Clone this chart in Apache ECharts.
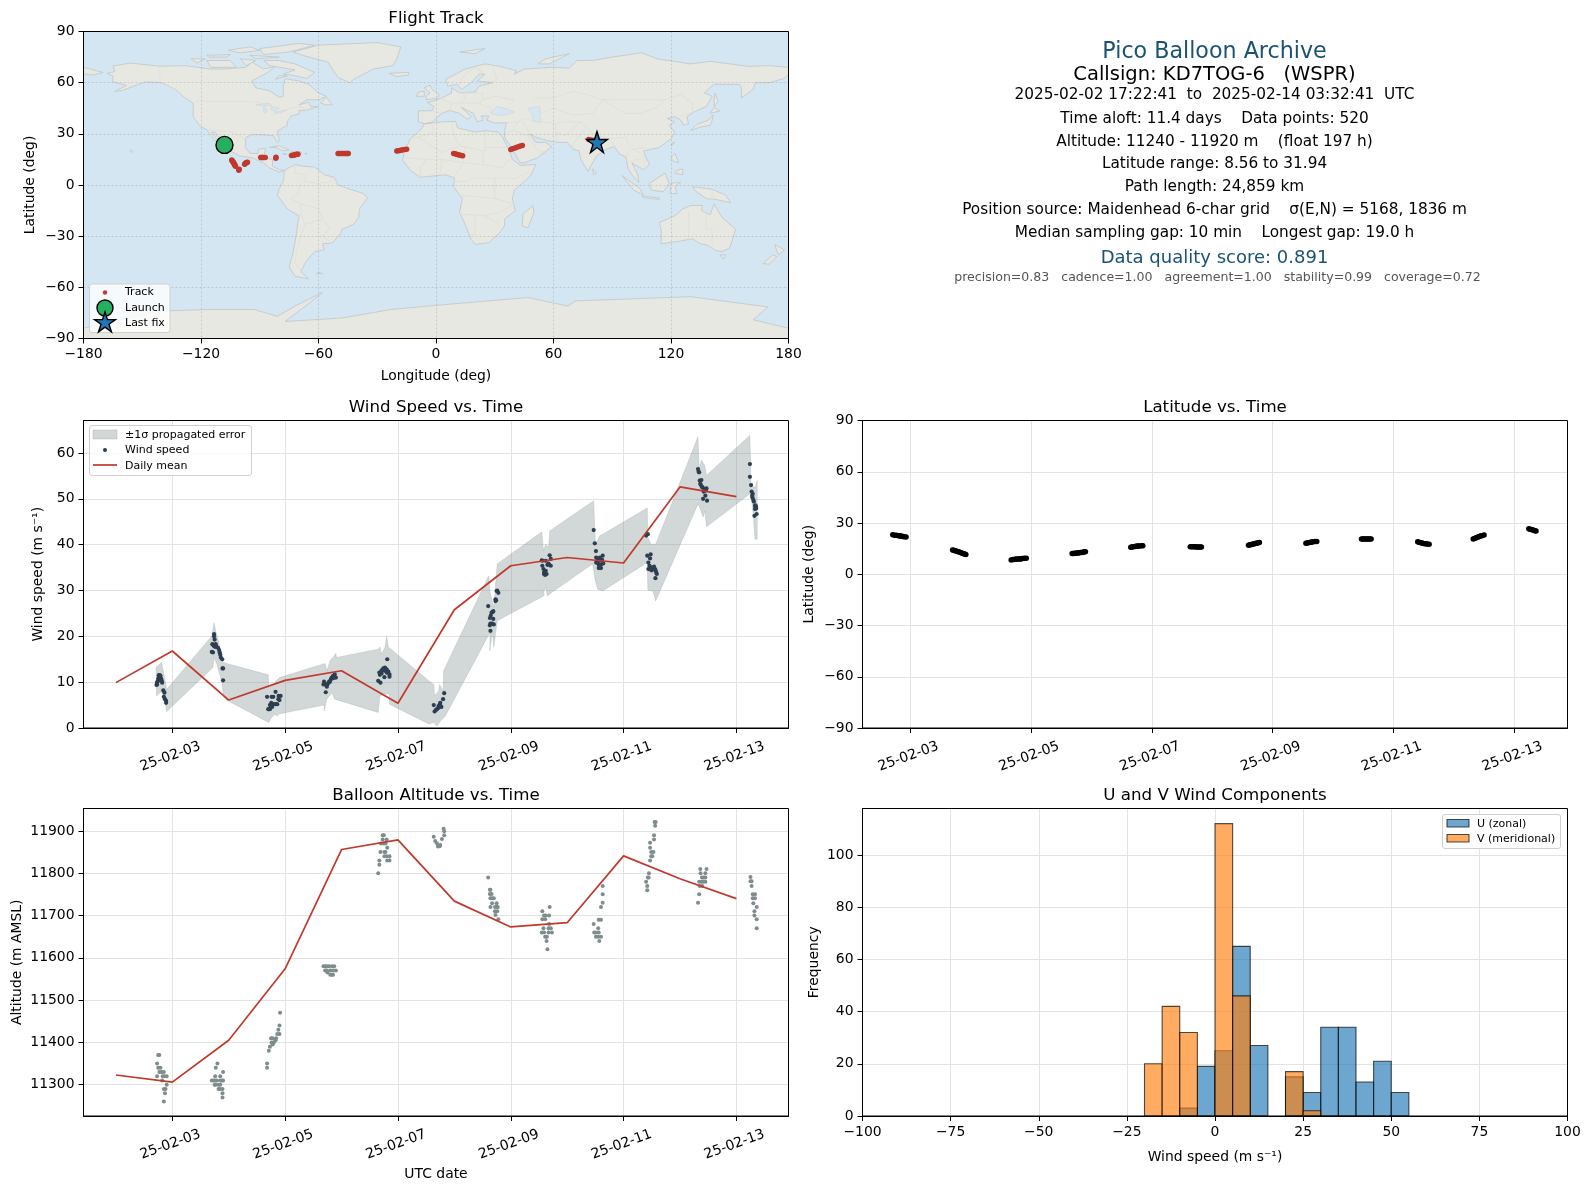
<!DOCTYPE html>
<html><head><meta charset="utf-8">
<script src="https://cdn.jsdelivr.net/npm/echarts@6/dist/echarts.min.js"></script>
<style>html,body{margin:0;padding:0;background:#fff}#c{width:1589px;height:1189px}</style>
</head><body><div id="c"></div>
<script>
// ---------- DATA ----------
const dayTicks=[3,5,7,9,11,13];
const meanDays=[2,3,4,5,6,7,8,9,10,11,12,13];
const windMean=[9.9,16.8,6.1,10.4,12.5,5.4,25.8,35.4,37.2,36,52.6,50.5];
const altMean=[11323,11306,11405,11574,11856,11879,11734,11673,11683,11841,11787,11740];
const windPts=[
[2.72,9.4],[2.73,9.9],[2.73,9.5],[2.74,10.2],[2.75,10.7],[2.76,10.9],[2.76,11.5],[2.77,11.5],[2.78,11.5],[2.79,11.4],[2.79,10.9],[2.8,10.8],[2.8,10.3],[2.81,10.4],[2.82,9.9],[2.84,8.2],[2.86,7.7],[2.85,6.8],[2.87,6.3],[2.89,5.9],[2.89,5.5],
[3.74,20.5],[3.74,20],[3.75,19.3],[3.71,18.3],[3.73,18.0],[3.74,17.9],[3.77,18.3],[3.76,17.7],[3.78,17.8],[3.81,17.5],[3.83,17.0],[3.84,16.5],[3.70,16.6],[3.72,16.5],[3.85,16.0],[3.86,15.4],[3.885,15.0],[3.89,13.0],[3.9,13.0],[3.9,10.4],
[4.68,6.8],[4.83,7.9],[4.79,6.8],[4.76,6.8],[4.885,7.0],[4.92,7.0],[4.88,6.3],[4.90,6.1],[4.755,5.5],[4.73,5.0],[4.71,4.1],[4.73,4.1],[4.77,4.6],[4.80,5.2],[4.86,5.2],[4.83,5.2],[4.70,4.1],[4.75,4.9],
[5.69,10.1],[5.71,9.5],[5.74,9.0],[5.72,7.8],[5.75,9.5],[5.77,9.9],[5.78,10.1],[5.81,10.6],[5.825,11],[5.85,11.4],[5.88,11.7],[5.90,11],[5.85,10.9],[5.68,9.5],[5.87,11],[5.795,10.1],
[6.81,15],[6.77,13.2],[6.74,13],[6.71,12.6],[6.67,12.1],[6.68,11.6],[6.77,12.5],[6.80,12.8],[6.83,12.3],[6.85,11.7],[6.85,11.2],[6.76,11.1],[6.65,10.3],[6.69,9.9],[6.71,11.9],[6.8,12.1],[6.74,12.6],
[7.635,5.0],[7.65,3.6],[7.69,4.1],[7.72,4.8],[7.75,5.5],[7.80,6.3],[7.82,7.6],[7.77,4.6],[7.71,4.3],[7.74,5.1],[7.67,3.9],[7.76,4.7],
[8.60,26.6],[8.68,25.3],[8.66,25.2],[8.645,24.5],[8.63,24.0],[8.69,23.8],[8.64,22.8],[8.67,22.8],[8.70,22.6],[8.63,22.4],[8.64,21.2],[8.73,27.7],[8.73,28.1],[8.74,27.9],[8.75,29.9],[8.78,29.5],[8.76,30.0],[8.69,25.5],
[9.55,36.6],[9.56,35.4],[9.58,34.7],[9.59,33.9],[9.61,33.4],[9.635,33.6],[9.59,33.6],[9.69,37.7],[9.71,36.9],[9.65,35.6],[9.68,35.6],[9.71,35.4],[9.62,36.5],[9.56,36.5],[9.62,34.3],[9.67,35.9],
[10.47,43.2],[10.49,40.3],[10.51,38.6],[10.515,37.2],[10.54,36.8],[10.58,37.2],[10.63,37.6],[10.515,36.1],[10.56,35.7],[10.60,35.7],[10.64,35.9],[10.56,34.9],[10.60,34.9],[10.53,36.1],[10.59,36.6],[10.62,36.7],[10.55,36.4],[10.57,35.2],
[11.40,42.0],[11.43,42.3],[11.42,37.6],[11.48,37.9],[11.47,37.0],[11.44,36.1],[11.46,35.4],[11.44,34.7],[11.50,35.0],[11.54,35.2],[11.56,34.7],[11.58,33.9],[11.59,33.6],[11.565,32.7],[11.50,34.4],[11.47,34.6],[11.52,34.9],[11.57,34.3],
[12.32,56.5],[12.34,55.8],[12.35,54],[12.38,54.1],[12.36,53.3],[12.40,52.5],[12.44,52.2],[12.47,52.3],[12.42,51.6],[12.45,50.7],[12.41,50],[12.48,49.6],[12.39,52.6],[12.37,53.0],[12.45,51.8],[12.43,51.9],[12.33,55.9],[12.46,52.0],
[13.24,57.6],[13.24,54.8],[13.26,53],[13.27,51.6],[13.29,51.1],[13.285,50.3],[13.30,49.8],[13.33,48.5],[13.35,48.2],[13.33,47.8],[13.32,46.3],[13.36,46.7],[13.34,48.6],[13.35,47.9],[13.28,50.7],[13.31,49.4]];
const bandUpper=[[2.71,13.2],[2.81,14.3],[2.88,9.9],[2.90,8.4],[3.70,20.1],[3.74,23.0],[3.77,21.2],[3.82,19.0],[3.90,14.3],[4.70,11.6],[4.71,8.8],[4.79,9.2],[4.84,10.3],[4.90,11.0],[5.71,14.1],[5.74,12.5],[5.80,14.8],[5.85,15.4],[5.90,16.3],[5.91,15.4],[6.65,17.2],[6.68,17.7],[6.71,16.1],[6.77,17.6],[6.80,20.1],[6.83,17.7],[7.546,10.3],[7.635,9.5],[7.65,7.0],[7.72,8.1],[7.74,9.5],[7.80,8.1],[7.81,12.5],[8.61,33.2],[8.63,29.9],[8.67,27.7],[8.70,26.3],[8.76,35.8],[9.55,42.8],[9.58,38.7],[9.62,40.1],[9.67,39.4],[9.69,43.0],[10.47,49.6],[10.50,40.1],[10.54,40.9],[10.58,42.0],[10.63,42.3],[11.42,48.0],[11.43,41.6],[11.49,40.1],[11.57,40.1],[12.32,63.6],[12.34,56.5],[12.38,58.5],[12.44,57.2],[12.47,55.1],[13.24,63.9],[13.26,52.9],[13.33,52.5],[13.37,54.0]];
const bandLower=[[2.72,7.0],[2.81,8.1],[2.86,6.6],[2.90,3.6],[3.72,13.2],[3.74,15.4],[3.79,13.9],[3.87,10.3],[3.92,6.6],[3.96,6.1],[4.71,1.2],[4.76,2.3],[4.82,3.0],[4.85,2.6],[4.90,3.1],[5.69,5.0],[5.69,3.7],[5.74,6.3],[5.83,7.7],[5.88,6.3],[6.65,3.4],[6.68,7.0],[6.77,7.4],[6.85,7.4],[6.85,5.2],[7.546,0.9],[7.635,1.2],[7.69,0.4],[7.75,1.5],[7.84,2.6],[8.63,20.8],[8.63,16.8],[8.67,21.2],[8.70,17.6],[8.76,23.4],[9.58,28.8],[9.59,29.9],[9.62,30.7],[9.65,28.8],[9.73,29.6],[10.45,35.8],[10.50,32.1],[10.54,30.3],[10.63,29.9],[11.42,36.1],[11.43,30.1],[11.52,29.9],[11.57,27.7],[12.32,48.9],[12.35,48.1],[12.41,46.0],[12.44,47.4],[12.47,43.9],[13.24,51.1],[13.27,49.6],[13.30,46.3],[13.33,41.2],[13.37,41.2]];
const altPts=[
[2.75,11370],[2.77,11370],[2.73,11350],[2.75,11340],[2.79,11340],[2.77,11330],[2.81,11330],[2.85,11330],[2.73,11320],[2.83,11320],[2.86,11320],[2.9,11320],[2.9,11300],[2.85,11290],[2.88,11290],[2.87,11280],[2.85,11260],[2.82,11310],
[3.80,11350],[3.77,11340],[3.76,11320],[3.85,11320],[3.90,11330],[3.70,11310],[3.73,11310],[3.76,11310],[3.79,11310],[3.85,11310],[3.88,11310],[3.90,11310],[3.75,11300],[3.77,11300],[3.82,11300],[3.85,11300],[3.82,11290],[3.85,11290],[3.89,11290],[3.89,11280],[3.89,11270],
[4.91,11470],[4.90,11440],[4.88,11430],[4.86,11420],[4.90,11420],[4.84,11410],[4.75,11410],[4.78,11410],[4.83,11405],[4.76,11400],[4.80,11400],[4.78,11395],[4.73,11390],[4.71,11380],[4.68,11350],[4.68,11340],
[5.68,11580],[5.71,11580],[5.74,11580],[5.78,11580],[5.83,11580],[5.87,11580],[5.71,11570],[5.74,11570],[5.80,11570],[5.85,11570],[5.90,11570],[5.75,11565],[5.80,11560],[5.83,11560],[5.85,11560],
[6.73,11890],[6.75,11890],[6.73,11880],[6.80,11880],[6.70,11870],[6.75,11870],[6.78,11870],[6.81,11860],[6.69,11850],[6.76,11850],[6.78,11850],[6.76,11840],[6.80,11840],[6.85,11840],[6.81,11830],[6.85,11830],[6.67,11830],[6.67,11820],[6.65,11800],
[7.635,11886],[7.66,11876],[7.69,11871],[7.72,11865],[7.75,11867],[7.78,11881],[7.82,11890],[7.81,11905],[7.82,11899],[7.74,11864],[7.71,11863],
[8.60,11790],[8.63,11761],[8.64,11761],[8.63,11751],[8.66,11751],[8.64,11741],[8.67,11741],[8.70,11741],[8.67,11729],[8.75,11729],[8.64,11720],[8.72,11720],[8.75,11720],[8.77,11720],[8.72,11710],[8.76,11710],[8.73,11701],[8.78,11691],
[9.56,11710],[9.69,11720],[9.59,11700],[9.62,11700],[9.68,11700],[9.56,11691],[9.61,11691],[9.68,11680],[9.58,11670],[9.67,11670],[9.71,11670],[9.55,11660],[9.59,11660],[9.67,11660],[9.73,11660],[9.61,11650],[9.64,11650],[9.635,11640],[9.65,11620],
[10.63,11770],[10.63,11750],[10.63,11730],[10.60,11720],[10.56,11690],[10.60,11690],[10.47,11680],[10.55,11670],[10.48,11660],[10.51,11660],[10.56,11660],[10.51,11650],[10.55,11650],[10.60,11650],[10.57,11640],
[11.57,11921],[11.55,11921],[11.56,11912],[11.54,11890],[11.54,11880],[11.47,11872],[11.47,11860],[11.49,11850],[11.53,11850],[11.51,11840],[11.49,11840],[11.47,11830],[11.45,11800],[11.445,11790],[11.40,11780],[11.43,11790],[11.42,11770],[11.42,11760],
[12.36,11810],[12.47,11810],[12.365,11800],[12.45,11800],[12.39,11790],[12.42,11790],[12.45,11790],[12.34,11780],[12.38,11780],[12.41,11780],[12.45,11780],[12.35,11770],[12.395,11770],[12.34,11750],[12.32,11730],
[13.25,11791],[13.25,11781],[13.27,11781],[13.27,11770],[13.29,11750],[13.33,11750],[13.29,11741],[13.33,11741],[13.30,11729],[13.36,11720],[13.32,11710],[13.32,11700],[13.36,11691],[13.36,11670]];
const latPts=[
[2.71,23.1],[2.74,22.9],[2.77,22.8],[2.8,22.6],[2.82,22.5],[2.84,22.4],[2.86,22.2],[2.88,22.1],[2.9,21.9],[2.93,21.8],
[3.70,14.2],[3.72,14],[3.74,13.8],[3.76,13.6],[3.78,13.3],[3.80,13.1],[3.82,12.9],[3.84,12.6],[3.86,12.3],[3.88,12],[3.90,11.8],[3.92,11.6],
[4.67,8.4],[4.70,8.6],[4.72,8.7],[4.74,8.8],[4.76,8.9],[4.78,8.9],[4.80,9.0],[4.82,9.0],[4.84,9.1],[4.86,9.2],[4.89,9.3],[4.92,9.4],
[5.68,12.2],[5.70,12.2],[5.72,12.3],[5.74,12.3],[5.76,12.4],[5.78,12.5],[5.80,12.6],[5.82,12.7],[5.84,12.8],[5.86,12.9],[5.88,13.1],[5.90,13.2],
[6.65,15.8],[6.67,16],[6.69,16.1],[6.72,16.3],[6.74,16.4],[6.76,16.5],[6.78,16.5],[6.80,16.6],[6.83,16.7],[6.85,16.7],
[7.635,16.1],[7.66,16.1],[7.68,16.1],[7.70,16.1],[7.72,16.1],[7.74,16.0],[7.76,16.0],[7.78,16.0],[7.80,16.0],[7.82,16.0],
[8.60,17.0],[8.62,17.2],[8.64,17.3],[8.66,17.5],[8.68,17.7],[8.70,17.9],[8.72,18.1],[8.74,18.2],[8.76,18.4],[8.78,18.6],
[9.55,18.2],[9.57,18.3],[9.59,18.4],[9.61,18.6],[9.63,18.7],[9.65,18.9],[9.67,19.0],[9.70,19.1],[9.73,19.2],
[10.47,20.6],[10.49,20.7],[10.51,20.7],[10.53,20.7],[10.55,20.7],[10.57,20.7],[10.59,20.6],[10.61,20.6],[10.63,20.6],
[11.40,19.0],[11.42,18.8],[11.44,18.6],[11.46,18.4],[11.48,18.2],[11.50,18],[11.52,17.9],[11.54,17.8],[11.56,17.7],[11.59,17.6],
[12.32,20.6],[12.34,20.9],[12.36,21.2],[12.38,21.5],[12.40,21.8],[12.42,22.1],[12.44,22.4],[12.46,22.6],[12.50,23],
[13.24,26.6],[13.26,26.4],[13.28,26.2],[13.30,26],[13.32,25.7],[13.34,25.5],[13.36,25.3]];
const histEdges=[-20,-15,-10,-5,0,5,10,15,20,25,30,35,40,45,50,55];
const uCounts=[0,0,3,19,25,65,27,0,15,9,34,34,13,21,9];
const vCounts=[20,42,32,0,112,46,0,0,17,2,0,0,0,0,0];
const trackPts=[[-104.3,14.6],[-104,14.1],[-103.8,13.8],[-103.5,13.3],[-103.2,12.8],[-103,12.3],[-102.8,11.8],[-102.6,11.4],[-102.4,11],[-100.7,8.6],[-100.5,9.2],[-97.7,12.2],[-97.4,12.6],[-97,13],[-96.6,13.2],[-96.3,13.4],[-89.5,16.1],[-89,16.1],[-88.5,16.1],[-88,16.1],[-87.2,16.1],[-81.8,15.7],[-81.7,16.2],[-73.8,17.3],[-73,17.4],[-72.5,17.6],[-72,17.8],[-71.5,17.9],[-71,18],[-70.5,18.1],[-50,18.5],[-49.3,18.5],[-48.5,18.5],[-47.8,18.5],[-47,18.5],[-46.4,18.5],[-45.8,18.5],[-45.3,18.5],[-44.8,18.5],[-20,20],[-19.3,20.1],[-18.5,20.3],[-17.8,20.4],[-17,20.6],[-16,20.8],[-15,21],[9,18.5],[9.7,18.3],[10.5,18.1],[11.2,17.8],[12,17.6],[12.8,17.3],[13.6,17.1],[38.2,20.8],[39,21.2],[40,21.6],[41,22],[42,22.4],[43,22.8],[44.1,23.2],[78,26.7],[79,26.4],[80,26.2]];
const launchPt=[-108,23.5];
const lastFixPt=[82.2,25.2];
const landPolys=[
[[-168,65.5],[-164,66.5],[-165,69.8],[-156,71.5],[-141,69.6],[-128,70],[-124,69.4],[-115,68],[-108,68],[-97,69],[-94,72],[-88,68],[-82,69.5],[-86,66],[-94,61],[-92,57],[-85,55.3],[-82,53],[-80,51.5],[-78,52],[-78,58],[-77,62.3],[-70,61],[-65,59],[-60,54],[-56,52],[-60,50],[-66,50],[-70,47],[-65,48.5],[-64,46],[-60,46],[-66,44],[-70,43.5],[-70,41.5],[-74,40.5],[-76,37],[-76,35],[-81,31.5],[-80,26],[-81,25],[-83,29],[-90,29.5],[-94,29.5],[-97,28],[-97.5,22],[-95,18.5],[-91,18.5],[-90.5,21],[-87,21.5],[-88,16],[-83.5,15],[-83.5,11],[-80,9],[-77.5,8.5],[-80,7.5],[-85,10],[-88,13],[-94,16],[-100,17],[-105,20],[-106,23],[-110,27],[-113,31],[-114.7,31],[-112,27],[-109.5,23],[-112,25],[-115,29],[-117,32.5],[-120.5,34.5],[-124,40],[-124,48],[-128,51],[-133,56],[-140,60],[-148,60.5],[-152,59],[-160,55.5],[-164,54.8],[-158,58.5],[-165,60.5],[-165,64]],
[[-80,73],[-72,71],[-62,66],[-66,62.5],[-74,64.5],[-78,65],[-72,67.5],[-85,70],[-88,73]],
[[-117,73],[-105,73],[-102,69],[-115,69]],
[[-90,80],[-70,83],[-62,82],[-75,78],[-88,76.5]],
[[-125,74],[-118,74],[-122,71.5]],
[[-95,76],[-80,75],[-92,74]],
[[-117,76],[-105,76.5],[-107,75],[-116,75]],
[[-100,74],[-92,73],[-97,70]],
[[-106,79],[-95,81],[-90,79],[-100,77.5]],
[[-80,64],[-76,64],[-82,62]],
[[-59,48],[-56,51.5],[-53,47],[-56,47]],
[[-73,78],[-60,82],[-30,83.5],[-18,81],[-20,74],[-22,70],[-32,68],[-42,62],[-44,60],[-50,63],[-53,68],[-55,72],[-68,76]],
[[-85,22],[-80,23],[-75,20.5],[-78,20],[-82,22]],
[[-74,19.5],[-69,19.5],[-68.5,18.5],[-74,18]],
[[-67,18.5],[-65.7,18.4],[-66,18]],
[[-78.4,18.4],[-76.3,18.2],[-77,17.8]],
[[-156,20.6],[-155,19.8],[-155.7,19]],
[[-77.5,8.5],[-72,12],[-68,11],[-62,10.5],[-57,6],[-52,4.5],[-50,0],[-44,-2.5],[-37,-5],[-35,-7.5],[-39,-14],[-39.5,-19],[-42,-23],[-48,-26],[-49,-29],[-53,-34],[-58,-34.5],[-57,-38],[-62,-39],[-65,-43],[-67,-46],[-69,-51],[-65,-55],[-72,-53.5],[-75,-48],[-73,-40],[-71.5,-30],[-70,-18],[-76,-14],[-81,-6],[-80,-2],[-78,2],[-77.5,7]],
[[-61,-52],[-58,-52],[-59,-51]],
[[-6,35.8],[3,37],[10,37.3],[11,33.5],[20,31],[25,31.8],[32,31],[34,28],[37,21],[39,15],[43,11.5],[51,12],[48,5],[40,-3],[39,-8],[40.5,-15],[35,-20],[35,-24],[32.5,-28],[27,-33.8],[20,-34.8],[18,-32],[14.5,-22],[12,-16],[13.5,-8],[9,-1],[9.5,4],[5,6],[-4,5],[-8,4.5],[-13,8.5],[-17,14.5],[-16,20],[-13,27.5],[-10,30],[-7,33.5]],
[[49.5,-12],[50,-16],[47,-25],[44,-24],[44.5,-17]],
[[-9,37],[-6,36],[-2,36.8],[0,39],[3,42],[7,43.7],[12,42],[16,38.5],[18,40],[13,45.5],[19,42],[21,37],[24,38],[23,40.5],[27,40.5],[26,38],[30,36.3],[36,36.5],[35,31.5],[35,28],[39,21],[43,13],[45,13],[52,16],[59,22.5],[56,25],[51,25],[48,30],[51,28],[57,26],[62,25],[67,25],[70,21],[73,20],[74,15],[77.5,8],[80,13],[82,17],[87,21],[91,22.5],[94,18],[97,16.5],[98,10],[100,6],[103.5,1.5],[103,6],[100,13],[103,11],[106,9],[109,12],[107,17],[106,20],[110,21],[114,22],[120,27],[122,31],[119,35],[122,37],[118,39],[122,40],[125,38],[126.5,35],[129,36],[128,40],[132,43],[138,46],[141,52],[137,54],[142,59],[155,59],[156,57],[156,51],[162,56],[163,60],[170,60],[178,62.5],[180,65],[180,69],[170,70],[160,69.5],[140,72.5],[130,71],[113,74],[105,77.5],[90,75],[80,73],[72,73],[68,68.5],[60,69],[45,68],[40,65],[41,67],[33,69.5],[25,71],[15,68],[5,62],[6,58],[11,59],[13,56],[18,60],[22,65],[25,65],[21,61],[29,60],[22,58],[20,54.5],[12,54],[8,57],[8,54],[3,51],[-2,49],[-4.5,48.5],[-1,46],[-2,43.5],[-9,43.5]],
[[-180,65],[-175,64.5],[-170,66],[-180,69]],
[[-5,50],[1,51],[1.5,53],[-2,56],[-3,58.5],[-6,57],[-3,54],[-5,52]],
[[-10,52],[-6,52],[-6,55],[-9,54.5]],
[[-24,65.5],[-14,66],[-14,64.5],[-20,63.5]],
[[12,78],[25,80],[20,77]],
[[52,71],[56,74],[68,77],[58,71]],
[[130,32],[135,34],[140,35],[141,38],[141.5,41],[139,38],[133,35.5]],
[[140,42],[145,43.5],[142,45.5]],
[[142,46],[144,49],[142.5,54],[142,50]],
[[120,23],[122,25],[121,25]],
[[120,16],[122,18.5],[124,13],[121,14]],
[[122,7],[126,6],[126,9.5],[123,8.5]],
[[109,1],[117,7],[119,1],[116,-4],[110,-3]],
[[95,5.5],[104,-2],[106,-6],[101,-3]],
[[105,-6.5],[114,-7.5],[114,-8.5],[106,-7.5]],
[[119.5,-5],[120,1],[125,1.5],[122,-1],[123,-5]],
[[131,-1],[141,-2.5],[148,-6],[150.5,-10.5],[143,-8.5],[138,-8],[133,-4]],
[[80,9.5],[82,7],[80.5,6]],
[[114,-22],[122,-18],[126,-14],[130,-12],[136,-12],[135.5,-15],[140,-17.5],[142,-11],[146,-19],[153,-26],[150,-37],[146,-39],[143,-38.5],[138,-35],[135,-34.5],[131,-31.5],[124,-33],[115,-34.5],[115,-27]],
[[145,-41],[148,-41],[147,-43.5]],
[[173,-35],[178,-38],[175,-41],[174,-38.5]],
[[172,-41],[174,-42],[170,-46.5],[167,-46]],
[[-180,-84],[-142,-74],[-116.5,-73],[-93,-73],[-81,-77],[-72,-71],[-58,-63],[-65,-69.5],[-77,-80],[-48,-78],[-23,-73],[0.6,-70.5],[47,-66],[67.5,-71],[71,-68],[106,-66.5],[130,-65.5],[169.5,-71.5],[162,-79],[180,-84],[180,-90],[-180,-90]]
];
const waterPolys=[
[[28,42],[31,46],[35,45],[40,43],[36,41],[31,41]],
[[47,45],[53,46],[53,40],[54,37],[50,37],[49,41]],
[[-92,47],[-85,48],[-84,46.5],[-88,46.5]],
[[-88,46],[-86,44],[-87,42],[-88,43]],
[[-84,46],[-80,45],[-82,43],[-84,44]],
[[-83,42],[-79,43.5],[-76,44],[-79,42.5]]
];
const borderLines=[
[[-123,49],[-95,49],[-89,48],[-83,46],[-82,42],[-79,43],[-75,45],[-70,46],[-67,45]],
[[-141,69.7],[-141,60],[-133,56]],
[[-117,32.5],[-108,31.5],[-106,31.7],[-101,29.5],[-97.5,26]],
[[-92,14.5],[-91,18],[-89,18]],
[[-72,12],[-72,7],[-67,6],[-67,2],[-70,-1],[-70,-4],[-74,-8],[-69,-11],[-69,-17],[-70,-18]],
[[-60,5],[-60,1],[-67,2]],[[-52,4.5],[-54,2],[-60,1]],
[[-69,-11],[-60,-14],[-58,-20],[-54,-25],[-58,-30],[-53,-34]],
[[-69,-17],[-67,-23],[-70,-33],[-72,-45],[-69,-51]],[[-67,-23],[-58,-20]],
[[-2,35],[-1,31],[-9,28],[-13,27.5]],[[-9,28],[-5,25],[3,19],[12,23],[25,20],[25,31.8]],[[25,22],[37,22]],[[8,37],[9,30],[12,23]],
[[-16,16],[-5,15],[3,15],[14,13],[15,23]],[[14,13],[24,12],[24,20]],[[24,12],[34,10],[36,14],[39,15]],
[[3,15],[2,6]],[[-8,4.5],[-8,10],[-5,15]],[[14,13],[9,4]],[[9,2],[16,2],[18,4],[30,4],[34,4],[41,4],[48,8]],
[[12,-6],[22,-7],[30,-8],[30,4]],[[30,-8],[39,-11]],[[12,-17],[24,-18],[33,-16],[40,-11]],[[20,-18],[20,-29],[17,-29]],[[25,-18],[31,-22],[32.5,-26]],
[[2,51],[6,49],[8,48],[7,44]],[[-2,43.5],[3,42]],[[-7,42],[-7,37]],[[14,54],[15,51],[13,48],[8,48]],[[14,54],[24,54],[24,50],[22,48],[16,48],[13,48]],[[24,50],[30,52],[40,50],[38,47]],[[22,48],[28,45],[28,42]],
[[28,60],[31,62],[29,70]],[[20,69],[24,66]],[[12,59],[14,64],[20,69]],
[[36,36.5],[42,37],[45,39],[48,38]],[[42,37],[39,32],[35,30]],[[39,32],[47,29],[48,30]],[[47,29],[52,20],[55,20],[52,16]],[[44,37],[46,34],[48,30]],[[48,38],[61,36],[61,31],[62,25]],[[61,36],[66,37],[71,37],[74,37]],[[61,31],[66,29],[70,33],[74,37],[77,34],[74,30],[70,24],[70,21]],
[[53,42],[60,45],[70,41],[80,42]],[[50,51],[60,51],[70,55],[77,53],[85,50],[80,42]],[[85,50],[98,50],[107,50],[117,50],[125,53],[131,48],[131,43]],[[85,50],[92,45],[97,42],[105,42],[112,45],[117,50]],
[[77,34],[80,30],[88,27],[97,28],[98,24],[101,21],[107,22]],[[92,22],[89,26]],[[97,16.5],[99,20],[101,21]],[[101,21],[105,18],[107,15],[106,11]],[[100,13],[102,15],[105,15]],[[125,40],[130,42.5]],
[[141,-2.5],[141,-9]],[[129,-15],[129,-31]],[[138,-16],[138,-26],[141,-26],[141,-38]]
];
const infoLines=["2025-02-02 17:22:41  to  2025-02-14 03:32:41  UTC","Time aloft: 11.4 days    Data points: 520","Altitude: 11240 - 11920 m    (float 197 h)","Latitude range: 8.56 to 31.94","Path length: 24,859 km","Position source: Maidenhead 6-char grid    σ(E,N) = 5168, 1836 m","Median sampling gap: 10 min    Longest gap: 19.0 h"];
const infoTitle="Pico Balloon Archive";
const infoCall="Callsign: KD7TOG-6   (WSPR)";
const infoScore="Data quality score: 0.891";
const infoSub="precision=0.83   cadence=1.00   agreement=1.00   stability=0.99   coverage=0.72";

// ---------- LAYOUT ----------
const FONT='"DejaVu Sans"';
const L=83.5,LW=705,R=862.5,RW=705;
const rows=[[31.5,307],[420.5,307.5],[808.5,307.5]];
const grids=[
 {left:L,top:rows[0][0],width:LW,height:rows[0][1]},
 {left:L,top:rows[1][0],width:LW,height:rows[1][1]},
 {left:R,top:rows[1][0],width:RW,height:rows[1][1]},
 {left:L,top:rows[2][0],width:LW,height:rows[2][1]},
 {left:R,top:rows[2][0],width:RW,height:rows[2][1]}
];
const TICK=13.9,OCEAN='#d4e6f1',LAND='#e8e8e3';
const neg=v=>String(v).replace('-','\u2212');
const dayLabel=v=>'25-02-'+String(v).padStart(2,'0');
function axis(idx,o){
 const a={gridIndex:idx,type:'value',min:o.min,max:o.max,
  name:o.name||'',nameLocation:'middle',nameGap:o.gap||30,nameRotate:o.nameRotate,
  nameTextStyle:{fontFamily:FONT,fontSize:13.9,color:'#000'},
  axisLine:{show:true,onZero:false,lineStyle:{color:'#000',width:1}},
  axisTick:{show:true,length:5,lineStyle:{color:'#000',width:1},customValues:o.ticks},
  axisLabel:{show:true,fontFamily:FONT,fontSize:TICK,color:'#000',margin:o.margin||9,rotate:o.rotate||0,
    hideOverlap:false,showMinLabel:true,showMaxLabel:true,padding:o.pad||0,
    customValues:o.ticks,formatter:o.fmt||neg,align:o.align,verticalAlign:o.valign},
  splitLine:{show:true,lineStyle:{color:o.gridColor||'#e3e3e3',width:1,type:o.gridType||'solid'}}};
 if(o.z!=null)a.z=o.z;
 return a;
}
const timeAxis=(idx,min,max,name,gap)=>axis(idx,{min,max,ticks:dayTicks,fmt:dayLabel,rotate:20,align:'center',valign:'middle',pad:[0,4,0,0],name,gap,margin:28});

const xAxes=[
 axis(0,{min:-180,max:180,ticks:[-180,-120,-60,0,60,120,180],name:'Longitude (deg)',gap:31,gridColor:'rgba(90,90,90,.2)',gridType:[2,2],z:3}),
 timeAxis(1,1.4255,13.924),timeAxis(2,2.209,13.881),timeAxis(3,1.4255,13.924,'UTC date',51),
 axis(4,{min:-100,max:100,ticks:[-100,-75,-50,-25,0,25,50,75,100],name:'Wind speed (m s\u207B\u00B9)',gap:34})
];
const yAxes=[
 axis(0,{min:-90,max:90,ticks:[-90,-60,-30,0,30,60,90],name:'Latitude (deg)',gap:46,nameRotate:90,gridColor:'rgba(90,90,90,.2)',gridType:[2,2],z:3}),
 axis(1,{min:0,max:67.1,ticks:[0,10,20,30,40,50,60],name:'Wind speed (m s\u207B\u00B9)',gap:38,nameRotate:90}),
 axis(2,{min:-90,max:90,ticks:[-90,-60,-30,0,30,60,90],name:'Latitude (deg)',gap:46,nameRotate:90}),
 axis(3,{min:11226,max:11953,ticks:[11300,11400,11500,11600,11700,11800,11900],name:'Altitude (m AMSL)',gap:59,nameRotate:90}),
 axis(4,{min:0,max:117.8,ticks:[0,20,40,60,80,100],name:'Frequency',gap:41,nameRotate:90})
];
const polySeries=(list,ai,style,z)=>({type:'custom',xAxisIndex:ai,yAxisIndex:ai,clip:true,silent:true,z,
 data:list.map((_,i)=>[i,0]),
 renderItem:(p,api)=>({type:'polygon',shape:{points:list[p.dataIndex].map(c=>api.coord(c))},style})});
const histSeries=(counts,name,fill,z)=>({type:'custom',name,xAxisIndex:4,yAxisIndex:4,z,clip:true,silent:true,
 encode:{x:[0,1],y:2},
 data:counts.map((c,i)=>[histEdges[i],histEdges[i+1],c]).filter(d=>d[2]>0),
 renderItem:(p,api)=>{const a=api.coord([api.value(0),api.value(2)]),b=api.coord([api.value(1),0]);
  return {type:'rect',shape:{x:a[0],y:a[1],width:b[0]-a[0],height:b[1]-a[1]},style:{fill,stroke:'rgba(0,0,0,.68)',lineWidth:1.1}};}});
const dots=(name,ai,data,size,color,z)=>({type:'scatter',name,xAxisIndex:ai,yAxisIndex:ai,z,symbolSize:size,itemStyle:{color,opacity:1},data,silent:true});

const series=[
 polySeries(landPolys,0,{fill:LAND,stroke:'#c2c5c6',lineWidth:.8},1),
 polySeries(waterPolys,0,{fill:OCEAN,stroke:'#c8d0d4',lineWidth:.5},1),
 {type:'custom',xAxisIndex:0,yAxisIndex:0,clip:true,silent:true,z:1,data:borderLines.map((_,i)=>[i,0]),
  renderItem:(p,api)=>({type:'polyline',shape:{points:borderLines[p.dataIndex].map(c=>api.coord(c))},style:{fill:null,stroke:'#dedeD9',lineWidth:.8}})},
 dots('Track',0,trackPts,5.5,'#c0392b',5),
 {type:'scatter',name:'Launch',xAxisIndex:0,yAxisIndex:0,z:6,symbolSize:17,itemStyle:{color:'#27ae60',opacity:1,borderColor:'#000',borderWidth:1.4},data:[launchPt],silent:true},
 {type:'scatter',name:'Last fix',xAxisIndex:0,yAxisIndex:0,z:6,symbol:'path://M0,-1 L0.2245,-0.309 L0.951,-0.309 L0.363,0.118 L0.588,0.809 L0,0.382 L-0.588,0.809 L-0.363,0.118 L-0.951,-0.309 L-0.2245,-0.309 Z',symbolSize:21,itemStyle:{color:'#1f77b4',opacity:1,borderColor:'#000',borderWidth:1.4},data:[lastFixPt],silent:true},
 {type:'custom',name:'\u00B11\u03C3 propagated error',xAxisIndex:1,yAxisIndex:1,z:2,clip:true,silent:true,data:[[0,0]],
  renderItem:(p,api)=>({type:'polygon',shape:{points:bandUpper.concat(bandLower.slice().reverse()).map(c=>api.coord(c))},style:{fill:'rgba(127,140,141,.35)',stroke:'rgba(127,140,141,.25)',lineWidth:.8}})},
 dots('Wind speed',1,windPts,4.2,'#2c3e50',3),
 {type:'line',name:'Daily mean',xAxisIndex:1,yAxisIndex:1,z:4,showSymbol:false,lineStyle:{color:'#c0392b',width:1.7},data:meanDays.map((d,i)=>[d,windMean[i]]),silent:true},
 dots('Latitude',2,latPts,5.5,'#000',3),
 dots('Altitude',3,altPts,4,'#7f8c8d',3),
 {type:'line',name:'Altitude daily mean',xAxisIndex:3,yAxisIndex:3,z:4,showSymbol:false,lineStyle:{color:'#c0392b',width:1.7},data:meanDays.map((d,i)=>[d,altMean[i]]),silent:true},
 histSeries(uCounts,'U (zonal)','rgba(31,119,180,.65)',3),
 histSeries(vCounts,'V (meridional)','rgba(255,127,14,.65)',4)
];
const titleText=['Flight Track','Wind Speed vs. Time','Latitude vs. Time','Balloon Altitude vs. Time','U and V Wind Components'];
const title=grids.map((g,i)=>({text:titleText[i],left:g.left+g.width/2,top:g.top-21,padding:0,textAlign:'center',
  textStyle:{fontFamily:FONT,fontSize:16.67,fontWeight:'normal',color:'#000'}}));

// ---------- GRAPHIC (frames, legends, info panel) ----------
const txt=(text,x,y,size,color,align)=>({type:'text',z:100,x,y,silent:true,style:{text,fontFamily:FONT,fontSize:size,fill:color||'#000',align:align||'left',verticalAlign:'middle'}});
const box=(x,y,w,h,fill)=>({type:'rect',z:99,silent:true,shape:{x,y,width:w,height:h,r:2.5},style:{fill,stroke:'#d0d0d0',lineWidth:1}});
const graphic=[];
grids.forEach(g=>graphic.push({type:'rect',z:98,silent:true,shape:{x:g.left,y:g.top,width:g.width,height:g.height},style:{fill:'none',stroke:'#000',lineWidth:1}}));
const LEG=11;
// map legend
graphic.push(box(89.5,284,80.5,48.5,'rgba(255,255,255,.8)'),
 {type:'circle',z:100,silent:true,shape:{cx:105,cy:292.5,r:2.2},style:{fill:'#c0392b'}},
 {type:'circle',z:100,silent:true,shape:{cx:105,cy:308,r:8},style:{fill:'#27ae60',stroke:'#000',lineWidth:1.4}},
 {type:'polygon',z:100,silent:true,shape:{points:[[0,-1],[.2245,-.309],[.951,-.309],[.363,.118],[.588,.809],[0,.382],[-.588,.809],[-.363,.118],[-.951,-.309],[-.2245,-.309]].map(p=>[105+p[0]*11,323+p[1]*11])},style:{fill:'#1f77b4',stroke:'#000',lineWidth:1.4}},
 txt('Track',125,292.5,LEG),txt('Launch',125,308,LEG),txt('Last fix',125,323.5,LEG));
// wind legend
graphic.push(box(89.5,425.5,162,50,'rgba(255,255,255,.8)'),
 {type:'rect',z:100,silent:true,shape:{x:93,y:430,width:24,height:9},style:{fill:'rgba(127,140,141,.35)',stroke:'rgba(127,140,141,.25)'}},
 {type:'circle',z:100,silent:true,shape:{cx:105,cy:450,r:2},style:{fill:'#2c3e50'}},
 {type:'line',z:100,silent:true,shape:{x1:93,y1:465,x2:117,y2:465},style:{stroke:'#c0392b',lineWidth:1.7}},
 txt('\u00B11\u03C3 propagated error',125,435,LEG),txt('Wind speed',125,450,LEG),txt('Daily mean',125,466,LEG));
// hist legend
graphic.push(box(1442.5,814.5,118,34,'rgba(255,255,255,.8)'),
 {type:'rect',z:100,silent:true,shape:{x:1447,y:819.5,width:22,height:7.5},style:{fill:'rgba(31,119,180,.65)',stroke:'rgba(0,0,0,.68)',lineWidth:1.1}},
 {type:'rect',z:100,silent:true,shape:{x:1447,y:834.5,width:22,height:7.5},style:{fill:'rgba(255,127,14,.65)',stroke:'rgba(0,0,0,.68)',lineWidth:1.1}},
 txt('U (zonal)',1477,824,LEG),txt('V (meridional)',1477,839,LEG));
// info panel
const CX=1214.5,INFO=15.3,HEAD='#1a5276';
graphic.push(txt(infoTitle,CX,52,22.2,HEAD,'center'),txt(infoCall,CX,74.5,19.5,'#000','center'));
const infoY=[95.5,119,142,164,187.5,210,233];
infoLines.forEach((t,i)=>graphic.push(txt(t,CX,infoY[i],INFO,'#000','center')));
graphic.push(txt(infoScore,CX,258.5,18,HEAD,'center'),txt(infoSub,CX+3,278,12.55,'#555','center'));

const chart=echarts.init(document.getElementById('c'),null,{renderer:'canvas',width:1589,height:1189,devicePixelRatio:1});
chart.setOption({animation:false,backgroundColor:'#fff',title,
 grid:grids.map((g,i)=>Object.assign({containLabel:false,show:i===0,backgroundColor:i===0?OCEAN:'transparent',borderWidth:0},g)),
 xAxis:xAxes,yAxis:yAxes,series,graphic});
</script></body></html>
